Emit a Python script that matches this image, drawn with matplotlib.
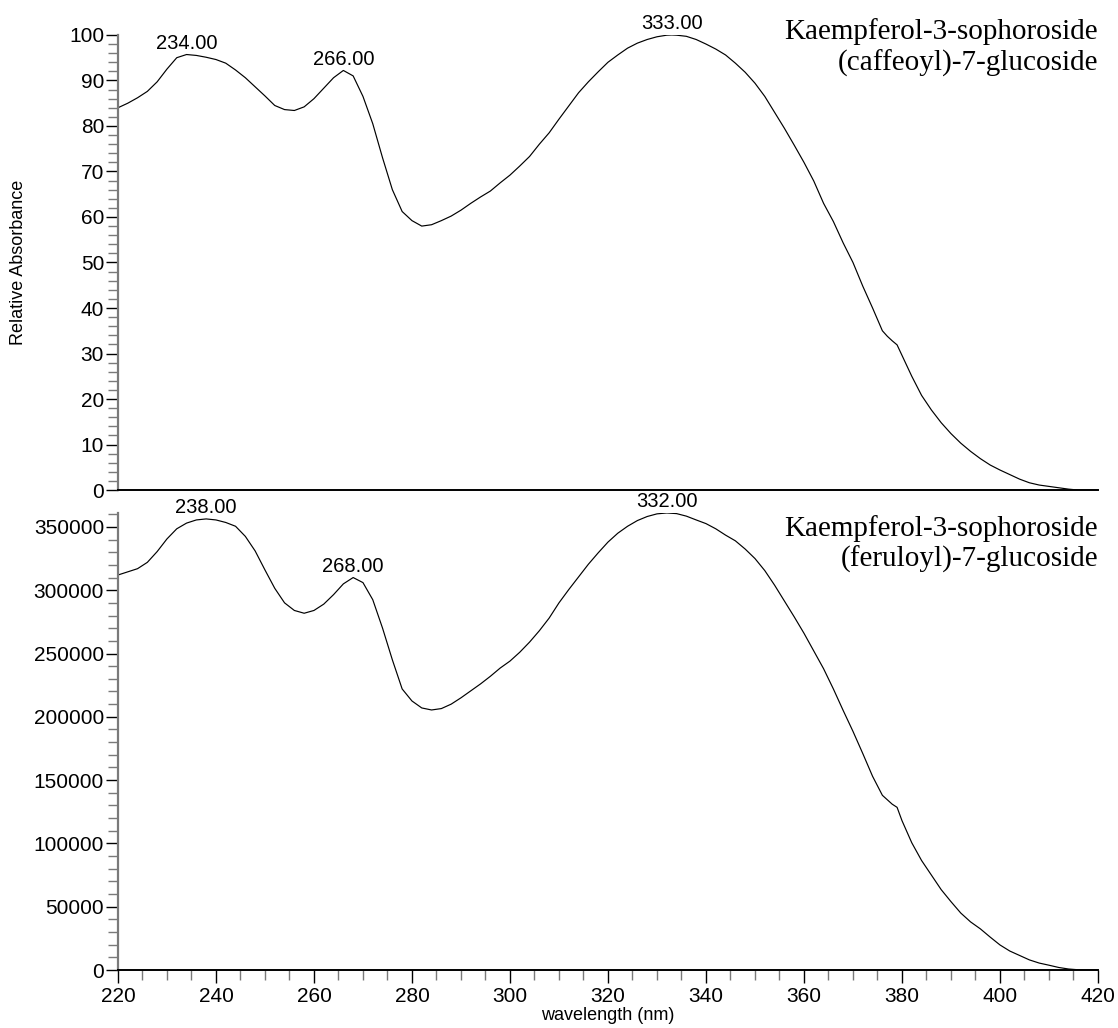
import matplotlib
matplotlib.use("Agg")
import matplotlib.pyplot as plt
from matplotlib.ticker import MultipleLocator, FuncFormatter

# UV spectra of the two kaempferol glycosides (wavelength in nm)
caffeoyl_wl = [220, 222, 224, 226, 228, 230, 232, 234, 236, 238, 240, 242, 244, 246, 248,
               250, 252, 254, 256, 258, 260, 262, 264, 266, 268, 270, 272, 274, 276, 278,
               280, 282, 284, 286, 288, 290, 292, 294, 296, 298, 300, 302, 304, 306, 308,
               310, 312, 314, 316, 318, 320, 322, 324, 326, 328, 330, 332, 333, 334, 336,
               338, 340, 342, 344, 346, 348, 350, 352, 354, 356, 358, 360, 362, 364, 366,
               368, 370, 372, 374, 376, 377, 378, 379, 380, 382, 384, 386, 388, 390, 392,
               394, 396, 398, 400, 402, 404, 406, 408, 410, 412, 414, 416, 418, 420]
caffeoyl_abs = [84.0, 85.0, 86.2, 87.6, 89.7, 92.5, 95.0, 95.7, 95.5, 95.1, 94.6, 93.8, 92.3, 90.6, 88.6,
                86.6, 84.5, 83.6, 83.4, 84.2, 86.0, 88.3, 90.6, 92.2, 91.0, 86.5, 80.5, 73.0, 66.0, 61.2,
                59.2, 58.0, 58.3, 59.2, 60.2, 61.5, 63.0, 64.4, 65.7, 67.5, 69.2, 71.2, 73.3, 76.0, 78.5,
                81.5, 84.4, 87.3, 89.7, 91.9, 94.0, 95.6, 97.1, 98.2, 99.0, 99.6, 99.95, 100.0, 99.95, 99.7,
                99.0, 98.0, 96.9, 95.6, 93.8, 91.8, 89.4, 86.5, 83.0, 79.5, 75.8, 72.0, 67.9, 63.0, 59.0,
                54.3, 50.0, 44.8, 40.0, 35.0, 33.8, 32.8, 31.9, 29.6, 25.0, 20.8, 17.6, 14.8, 12.4, 10.3,
                8.5, 6.9, 5.5, 4.4, 3.4, 2.4, 1.6, 1.1, 0.8, 0.5, 0.2, 0.0, 0.0, 0.0]

feruloyl_wl = [220, 222, 224, 226, 228, 230, 232, 234, 236, 238, 240, 242, 244, 246, 248,
               250, 252, 254, 256, 258, 260, 262, 264, 266, 268, 270, 272, 274, 276, 278,
               280, 282, 284, 286, 288, 290, 292, 294, 296, 298, 300, 302, 304, 306, 308,
               310, 312, 314, 316, 318, 320, 322, 324, 326, 328, 330, 332, 334, 336, 338,
               340, 342, 344, 346, 348, 350, 352, 354, 356, 358, 360, 362, 364, 366, 368,
               370, 372, 374, 376, 378, 379, 380, 382, 384, 386, 388, 390, 392, 394, 396,
               398, 400, 402, 404, 406, 408, 410, 412, 414, 416, 418, 420]
feruloyl_abs = [312000, 314500, 317000, 322000, 330500, 340500, 348500, 353000, 355500, 356300,
                355500, 353500, 350500, 342500, 331000, 316000, 301500, 290000, 284000, 281800,
                284000, 289000, 296500, 305000, 310000, 306000, 292500, 270000, 245000, 222000,
                212500, 207000, 205400, 206500, 210000, 215000, 220500, 226000, 232000, 238500,
                244000, 251000, 259000, 268000, 278000, 290000, 300500, 310500, 320500, 329500,
                338000, 345000, 350500, 355000, 358200, 360300, 361000, 360500, 358500, 355500,
                352600, 348500, 343500, 339000, 332500, 325000, 315500, 304000, 291500, 279000,
                266000, 252000, 238000, 222000, 205000, 188500, 171000, 153000, 138000, 131000,
                128500, 118000, 100500, 86500, 75000, 63500, 54000, 45000, 38000, 32500,
                26000, 19800, 15000, 11500, 8000, 5500, 3800, 2000, 800, 200, 0, 0]

caffeoyl_peaks = [234, 266, 333]
feruloyl_peaks = [238, 268, 332]

caffeoyl_name = "Kaempferol-3-sophoroside\n(caffeoyl)-7-glucoside"
feruloyl_name = "Kaempferol-3-sophoroside\n(feruloyl)-7-glucoside"

SANS = ["Liberation Sans", "DejaVu Sans"]
SERIF = ["Liberation Serif", "DejaVu Serif"]
plt.rcParams["font.family"] = SANS

fig = plt.figure(figsize=(11.18, 10.28), dpi=100)
ax_top = fig.add_axes([0.1055, 0.5233, 0.8766, 0.4427])
ax_bot = fig.add_axes([0.1055, 0.0564, 0.8766, 0.4446])


def style_axis(ax):
    for side in ("top", "right"):
        ax.spines[side].set_visible(False)
    ax.spines["left"].set_color("#7a7a7a")
    ax.spines["left"].set_linewidth(1.6)
    ax.spines["bottom"].set_color("black")
    ax.spines["bottom"].set_linewidth(1.4)
    ax.tick_params(axis="y", which="major", length=9, width=1.0, color="black",
                   labelsize=15, pad=1)
    ax.tick_params(axis="y", which="minor", length=7, width=1.0, color="#7a7a7a")
    ax.set_xlim(220, 420)


def mark_peaks(ax, wl, vals, peaks):
    for p in peaks:
        v = vals[wl.index(p)]
        ax.annotate(f"{p:.2f}", xy=(p, v), xytext=(0, 4), textcoords="offset points",
                    ha="center", va="baseline", fontsize=14.5, annotation_clip=False)


# top: caffeoyl derivative, relative scale
ax_top.plot(caffeoyl_wl, caffeoyl_abs, color="black", lw=0.85)
style_axis(ax_top)
ax_top.set_ylim(0, 100)
ax_top.yaxis.set_major_locator(MultipleLocator(10))
ax_top.yaxis.set_minor_locator(MultipleLocator(2))
ax_top.tick_params(axis="x", which="both", bottom=False, labelbottom=False)
mark_peaks(ax_top, caffeoyl_wl, caffeoyl_abs, caffeoyl_peaks)
ax_top.text(1.0, 1.037, caffeoyl_name, transform=ax_top.transAxes, ha="right", va="top",
            multialignment="right", family=SERIF, fontsize=21, linespacing=1.2)

# bottom: feruloyl derivative, raw absorbance counts
ax_bot.plot(feruloyl_wl, feruloyl_abs, color="black", lw=0.85)
style_axis(ax_bot)
ax_bot.set_ylim(0, 361000)
ax_bot.yaxis.set_major_locator(MultipleLocator(50000))
ax_bot.yaxis.set_minor_locator(MultipleLocator(10000))
ax_bot.yaxis.set_major_formatter(FuncFormatter(lambda v, _: f"{int(v)}"))
ax_bot.xaxis.set_major_locator(MultipleLocator(20))
ax_bot.xaxis.set_minor_locator(MultipleLocator(5))
ax_bot.tick_params(axis="x", which="major", length=9, width=1.0, color="black",
                   labelsize=15, pad=3)
ax_bot.tick_params(axis="x", which="minor", length=7, width=1.0, color="#7a7a7a")
mark_peaks(ax_bot, feruloyl_wl, feruloyl_abs, feruloyl_peaks)
ax_bot.text(1.0, 0.996, feruloyl_name, transform=ax_bot.transAxes, ha="right", va="top",
            multialignment="right", family=SERIF, fontsize=21, linespacing=1.2)

fig.text(19 / 1118, 1 - 262 / 1028, "Relative Absorbance", rotation=90,
         ha="center", va="center", fontsize=13)
fig.text(608 / 1118, 1 - 1015 / 1028, "wavelength (nm)", ha="center", va="center",
         fontsize=13)

fig.savefig("out.png", dpi=100)
